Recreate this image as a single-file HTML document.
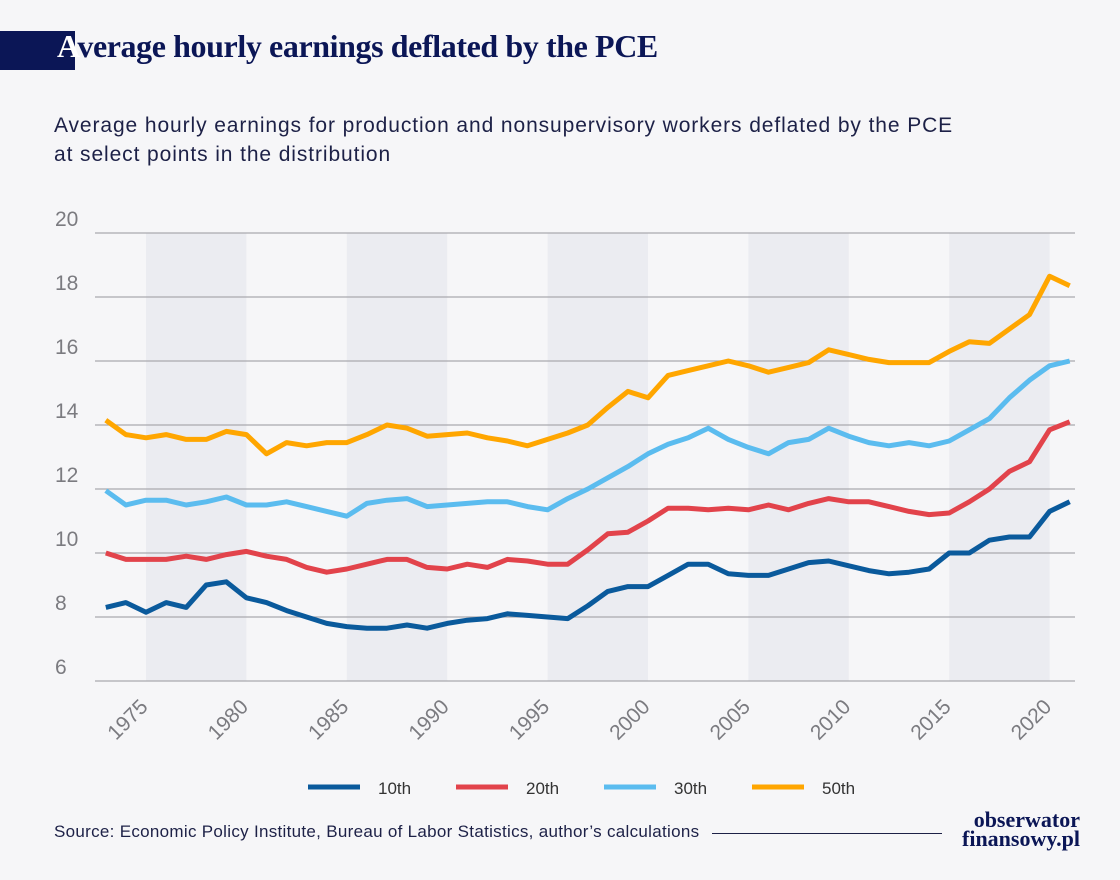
<!DOCTYPE html>
<html><head><meta charset="utf-8"><style>
body{margin:0;background:#f6f6f8;width:1120px;height:880px;overflow:hidden;position:relative;font-family:"Liberation Sans",sans-serif}
#hdr{position:absolute;left:0;top:31px;width:75px;height:39px;background:#0b1656}
#title{position:absolute;left:57px;top:28px;font-family:"Liberation Serif",serif;font-weight:bold;font-size:32px;color:#0b1656;letter-spacing:-0.4px}
#title span{color:#fff}
#sub{position:absolute;left:54px;top:111px;font-size:21px;letter-spacing:0.9px;line-height:29px;color:#1d2147}
#src{position:absolute;left:54px;top:822px;font-size:17px;letter-spacing:0.3px;color:#1d2147}
#rule{position:absolute;left:712px;top:833px;width:230px;height:1px;background:#1d2147}
#logo{position:absolute;left:950px;top:810px;font-family:"Liberation Serif",serif;font-weight:bold;font-size:22px;line-height:19px;color:#0b1656;text-align:right;width:130px}
</style></head><body>
<div id="hdr"></div>
<div id="title"><span>A</span>verage hourly earnings deflated by the PCE</div>
<div id="sub">Average hourly earnings for production and nonsupervisory workers deflated by the PCE<br>at select points in the distribution</div>
<svg id="chart" width="1120" height="880" style="position:absolute;left:0;top:0"></svg>
<div id="src">Source: Economic Policy Institute, Bureau of Labor Statistics, author’s calculations</div>
<div id="rule"></div>
<div id="logo">obserwator<br>finansowy.pl</div>
<script>
const years=[];for(let y=1973;y<=2021;y++)years.push(y);
const p10=[8.3,8.45,8.15,8.45,8.3,9.0,9.1,8.6,8.45,8.2,8.0,7.8,7.7,7.65,7.65,7.75,7.65,7.8,7.9,7.95,8.1,8.05,8.0,7.95,8.35,8.8,8.95,8.95,9.3,9.65,9.65,9.35,9.3,9.3,9.5,9.7,9.75,9.6,9.45,9.35,9.4,9.5,10.0,10.0,10.4,10.5,10.5,11.3,11.6];
const p20=[10.0,9.8,9.8,9.8,9.9,9.8,9.95,10.05,9.9,9.8,9.55,9.4,9.5,9.65,9.8,9.8,9.55,9.5,9.65,9.55,9.8,9.75,9.65,9.65,10.1,10.6,10.65,11.0,11.4,11.4,11.35,11.4,11.35,11.5,11.35,11.55,11.7,11.6,11.6,11.45,11.3,11.2,11.25,11.6,12.0,12.55,12.85,13.85,14.1];
const p30=[11.95,11.5,11.65,11.65,11.5,11.6,11.75,11.5,11.5,11.6,11.45,11.3,11.15,11.55,11.65,11.7,11.45,11.5,11.55,11.6,11.6,11.45,11.35,11.7,12.0,12.35,12.7,13.1,13.4,13.6,13.9,13.55,13.3,13.1,13.45,13.55,13.9,13.65,13.45,13.35,13.45,13.35,13.5,13.85,14.2,14.85,15.4,15.85,16.0];
const p50=[14.15,13.7,13.6,13.7,13.55,13.55,13.8,13.7,13.1,13.45,13.35,13.45,13.45,13.7,14.0,13.9,13.65,13.7,13.75,13.6,13.5,13.35,13.55,13.75,14.0,14.55,15.05,14.85,15.55,15.7,15.85,16.0,15.85,15.65,15.8,15.95,16.35,16.2,16.05,15.95,15.95,15.95,16.3,16.6,16.55,17.0,17.45,18.65,18.35];
const yTicks=[6,8,10,12,14,16,18,20];
const xTicks=[1975,1980,1985,1990,1995,2000,2005,2010,2015,2020];
const seriesNames=["10th","20th","30th","50th"];
const colors=["#0a5a9c","#e2434b","#5bbcef","#ffa600"];
const X=y=>146+(y-1975)*20.08;
const Y=v=>681-(v-6)*32;
const svg=document.getElementById('chart');const NS="http://www.w3.org/2000/svg";
function mk(t,a,p){const e=document.createElementNS(NS,t);for(const k in a)e.setAttribute(k,a[k]);(p||svg).appendChild(e);return e;}
for(let i=0;i<xTicks.length;i+=2){const r=mk('rect',{x:X(xTicks[i]),y:233,width:X(xTicks[i+1])-X(xTicks[i]),height:448,fill:'#ebecf1'});

}
yTicks.forEach(v=>{const l=mk('line',{x1:95,x2:1075,y1:Y(v),y2:Y(v),stroke:'#a9a9ae','stroke-width':1.2});


const t=mk('text',{x:55,y:Y(v)-7,'font-size':21,fill:'#7b7b80'});t.textContent=v;

});
xTicks.forEach(y=>{const ax=X(y)+3,ay=708;const t=mk('text',{x:ax,y:ay,'font-size':21,fill:'#7b7b80','text-anchor':'end',transform:`rotate(-45 ${ax} ${ay})`});t.textContent=y;

});
[p10,p20,p30,p50].forEach((s,i)=>{const d=s.map((v,j)=>(j?'L':'M')+X(years[j]).toFixed(1)+','+Y(v).toFixed(1)).join('');
const p=mk('path',{d:d,fill:'none',stroke:colors[i],'stroke-width':5,'stroke-linejoin':'round'});


const lx=308+i*148;
const g=mk('g',{});


mk('line',{x1:lx,x2:lx+52,y1:787,y2:787,stroke:colors[i],'stroke-width':5},g);
const t=mk('text',{x:lx+70,y:794,'font-size':17,fill:'#333'},g);t.textContent=seriesNames[i];});
</script>
</body></html>
